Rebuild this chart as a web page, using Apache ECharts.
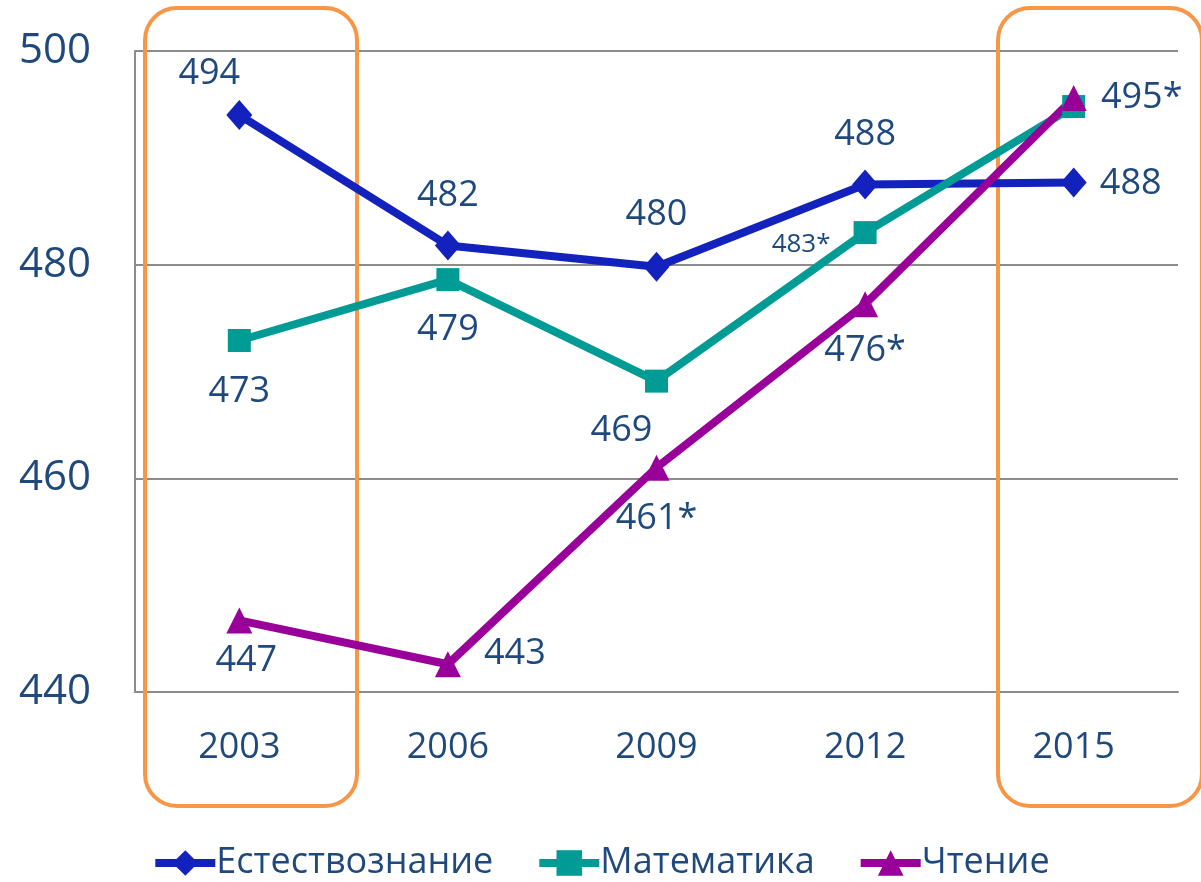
<!DOCTYPE html>
<html>
<head>
    <meta charset="UTF-8">
    <title>Динамика результатов</title>
    <script src="https://cdn.jsdelivr.net/npm/echarts@6/dist/echarts.min.js"></script>
    <style>
        html, body { margin: 0; padding: 0; background: #fff; }
        #main { width: 1201px; height: 882px; }
    </style>
</head>
<body>
<div id="main"></div>
<script type="text/javascript">
// данные
var years = ['2003', '2006', '2009', '2012', '2015'];
var seriesNames = ['Естествознание', 'Математика', 'Чтение'];
var science = [494, 481.8, 479.8, 487.5, 487.7];
var maths = [472.9, 478.6, 469.1, 483.0, 494.8];
var reading = [446.7, 442.6, 461.0, 476.3, 495.6];
var scienceLabels = ['494', '482', '480', '488', '488'];
var mathsLabels = ['473', '479', '469', '483*', ''];
var readingLabels = ['447', '443', '461*', '476*', '495*'];
var yTicks = [440, 460, 480, 500];

var textColor = '#1F497D';
var font = '"Open Sans", "Liberation Sans", sans-serif';

// смещения подписей относительно точки
var scienceOffsets = [[-30, -41], [0, -50], [0, -52], [0, -50], [57, 1]];
var mathsOffsets = [[0, 51], [0, 50], [-35, 50], [-64, 12], [0, 0]];
var readingOffsets = [[7, 40], [67, -10], [0, 51], [0, 47], [68, 0]];

function makeData(values, labels, offsets, smallIdx) {
    return values.map(function (v, i) {
        return {
            value: v,
            label: {
                show: labels[i] !== '',
                formatter: labels[i],
                offset: offsets[i],
                fontSize: i === smallIdx ? 26 : 36
            }
        };
    });
}

var myChart = echarts.init(document.getElementById('main'));

var option = {
    animation: false,
    color: ['#1321BD', '#009B95', '#990099'],
    textStyle: { fontFamily: font },
    grid: {
        left: 135,
        right: 23,
        top: 51,
        bottom: 190
    },
    legend: {
        data: seriesNames,
        bottom: -4,
        left: 'center',
        itemWidth: 60,
        itemHeight: 32,
        itemGap: 42,
        lineStyle: { width: 8 },
        textStyle: { color: textColor, fontSize: 36, fontFamily: font, padding: [0, 0, 0, -4] }
    },
    xAxis: {
        type: 'category',
        data: years,
        boundaryGap: true,
        axisLine: { show: true, lineStyle: { color: '#8C8C8C', width: 2 } },
        axisTick: { show: false },
        axisLabel: { color: textColor, fontSize: 36, margin: 38, fontFamily: font }
    },
    yAxis: {
        type: 'value',
        min: yTicks[0],
        max: yTicks[yTicks.length - 1],
        interval: 20,
        axisLine: { show: true, lineStyle: { color: '#8C8C8C', width: 2 } },
        axisTick: { show: false },
        axisLabel: { color: textColor, fontSize: 42, margin: 44, fontFamily: font },
        splitLine: { show: true, lineStyle: { color: '#8C8C8C', width: 2 } }
    },
    graphic: [
        {
            type: 'rect',
            shape: { x: 145, y: 8, width: 212, height: 798, r: 32 },
            style: { fill: 'none', stroke: '#F79646', lineWidth: 4 },
            z: 1
        },
        {
            type: 'rect',
            shape: { x: 998, y: 8, width: 204, height: 798, r: 32 },
            style: { fill: 'none', stroke: '#F79646', lineWidth: 4 },
            z: 1
        }
    ],
    series: [
        {
            name: seriesNames[0],
            type: 'line',
            symbol: 'diamond',
            symbolSize: [26, 30],
            lineStyle: { width: 8 },
            label: { show: true, position: 'inside', color: textColor, fontFamily: font },
            data: makeData(science, scienceLabels, scienceOffsets, -1)
        },
        {
            name: seriesNames[1],
            type: 'line',
            symbol: 'rect',
            symbolSize: 23,
            lineStyle: { width: 8 },
            label: { show: true, position: 'inside', color: textColor, fontFamily: font },
            data: makeData(maths, mathsLabels, mathsOffsets, 3)
        },
        {
            name: seriesNames[2],
            type: 'line',
            symbol: 'triangle',
            symbolSize: [26, 26],
            lineStyle: { width: 8 },
            label: { show: true, position: 'inside', color: textColor, fontFamily: font },
            data: makeData(reading, readingLabels, readingOffsets, -1)
        }
    ]
};
myChart.setOption(option);
</script>
</body>
</html>
